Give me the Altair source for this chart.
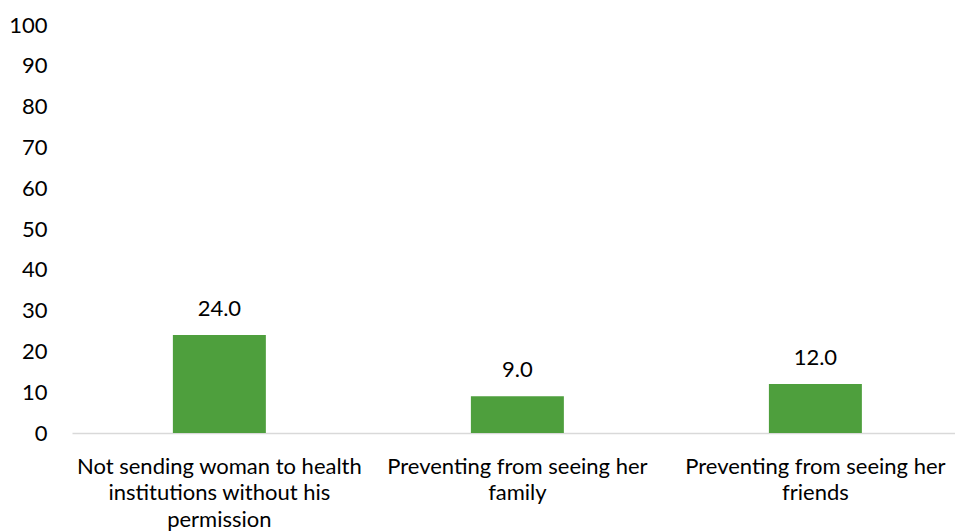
import json
import altair as alt
import pandas as pd

categories = [
    "Not sending woman to health institutions without his permission",
    "Preventing from seeing her family",
    "Preventing from seeing her friends",
]
values = [24.0, 9.0, 12.0]

# wrapped axis labels, one list of lines per category
label_lines = {
    categories[0]: ["Not sending woman to health", "institutions without his", "permission"],
    categories[1]: ["Preventing from seeing her", "family"],
    categories[2]: ["Preventing from seeing her", "friends"],
}

df = pd.DataFrame({"category": categories, "value": values})

FONT = "Lato"
SIZE = 22
GREEN = "#4e9f3d"

x = alt.X(
    "category:N",
    sort=categories,
    scale=alt.Scale(paddingInner=0.688, paddingOuter=0.3255, align=0.52),
    axis=alt.Axis(
        title=None,
        labelAngle=0,
        ticks=False,
        domainColor="#d9d9d9",
        domainWidth=1.5,
        labelFont=FONT,
        labelFontSize=SIZE,
        labelColor="#000000",
        labelPadding=23,
        labelLineHeight=26.5,
        labelLimit=400,
        labelExpr=f"{json.dumps(label_lines)}[datum.label]",
    ),
)
y = alt.Y(
    "value:Q",
    scale=alt.Scale(domain=[0, 100]),
    axis=alt.Axis(
        title=None,
        values=list(range(0, 101, 10)),
        grid=False,
        domain=False,
        ticks=False,
        labelFont=FONT,
        labelFontSize=SIZE,
        labelColor="#000000",
        labelPadding=25,
    ),
)

bars = alt.Chart(df).mark_bar(color=GREEN).encode(x=x, y=y)
text = alt.Chart(df).mark_text(
    font=FONT, fontSize=SIZE, color="#000000", baseline="alphabetic", dy=-19
).encode(x=alt.X("category:N", sort=categories), y="value:Q", text=alt.Text("value:Q", format=".1f"))

chart = (
    alt.layer(bars, text)
    .properties(
        width=883,
        height=408,
        background="white",
        autosize=alt.AutoSizeParams(type="none"),
        padding={"left": 72, "top": 25, "right": 0, "bottom": 98},
    )
    .configure_view(stroke=None, strokeWidth=0)
)

chart.save("out.html", embed_options={"renderer": "svg", "actions": False})
